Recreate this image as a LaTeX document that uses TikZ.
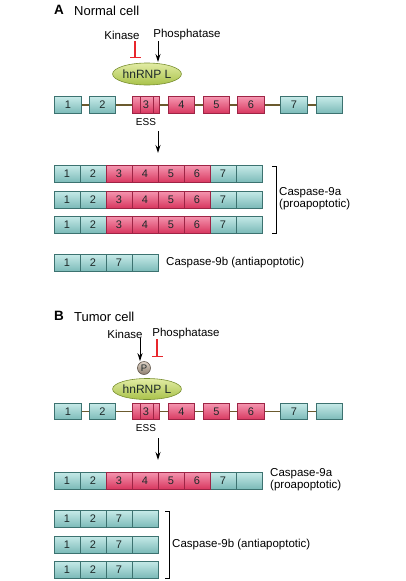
\documentclass[tikz,border=0pt]{standalone}
\usepackage{fontspec}
\setmainfont{Liberation Sans}
\usetikzlibrary{arrows.meta,shapes.geometric,calc,backgrounds}
\definecolor{tealL}{HTML}{C6EAE8}
\definecolor{tealD}{HTML}{7BBAB8}
\definecolor{tealB}{HTML}{3C7270}
\definecolor{pinkL}{HTML}{F596B0}
\definecolor{pinkD}{HTML}{D8375F}
\definecolor{pinkB}{HTML}{9E2445}
\definecolor{ellL}{HTML}{E2ECA4}
\definecolor{ellD}{HTML}{A9C24A}
\definecolor{ellB}{HTML}{7A9032}
\definecolor{bbone}{HTML}{6B5A2E}
\definecolor{inhred}{HTML}{E8262C}
\definecolor{txt}{HTML}{1E2A2A}
\definecolor{pL}{HTML}{DDD2C6}
\definecolor{pD}{HTML}{8E7E6E}
\tikzset{
  tealcell/.style={draw=tealB, top color=tealL, bottom color=tealD, minimum width=26pt, minimum height=17pt, inner sep=0pt, line width=0.6pt, text=txt, font=\fontsize{11}{11}\selectfont},
  pinkcell/.style={draw=pinkB, top color=pinkL, bottom color=pinkD, minimum width=26pt, minimum height=17pt, inner sep=0pt, line width=0.6pt, text=txt, font=\fontsize{11}{11}\selectfont},
  tealexon/.style={tealcell, minimum width=26.5pt, minimum height=16.5pt},
  pinkexon/.style={pinkcell, minimum width=26.5pt, minimum height=16.5pt},
  backbone/.style={draw=bbone, line width=1.4pt},
  lbl/.style={font=\fontsize{11.5}{12}\selectfont, inner sep=0pt, align=left},
  ttl/.style={font=\fontsize{13}{13}\selectfont, inner sep=0pt},
  act/.style={draw=black, line width=0.9pt, -{Stealth[length=8pt,width=5pt]}},
  inh/.style={draw=inhred, line width=1.1pt, -{Bar[width=11pt,line width=1.3pt]}},
  hnrnp/.style={ellipse, draw=ellB, top color=ellL, bottom color=ellD, minimum width=58pt, minimum height=22pt, inner sep=0pt, line width=0.6pt, font=\fontsize{12}{12}\selectfont, text=txt},
  bracket/.style={draw=black, line width=0.9pt},
}
\newcommand{\generow}[2]{%
  \node[tealexon] (#1e1) at (68,#2) {1};
  \node[tealexon] (#1e2) at (102.5,#2) {2};
  \node[pinkexon] (#1e3) at (146,#2) {3};
  \node[pinkexon] (#1e4) at (181.5,#2) {4};
  \node[pinkexon] (#1e5) at (216.5,#2) {5};
  \node[pinkexon] (#1e6) at (251,#2) {6};
  \node[tealexon] (#1e7) at (294,#2) {7};
  \node[tealexon] (#1e8) at (329.5,#2) {};
  \draw[pinkB, line width=0.6pt] ($(#1e3.north)+(-6,0)$) -- ($(#1e3.south)+(-6,0)$)
        ($(#1e3.north)+(7,0)$) -- ($(#1e3.south)+(7,0)$);
  \begin{scope}[on background layer]
    \draw[backbone] (#1e1.center) -- (#1e8.center);
  \end{scope}
  \node[font=\fontsize{10}{10}\selectfont, inner sep=0pt] (#1ess) at ($(#1e3.south)+(0,8.5)$) {ESS};
}
\newcommand{\rowNine}[2]{%
  \foreach \lab [count=\i] in {1,2,3,4,5,6,7,{}} {\node[tealcell] (#1c\i) at ({67+26*(\i-1)},#2) {\lab};}
  \foreach \lab [count=\i from 3] in {3,4,5,6} {\node[pinkcell] (#1c\i) at ({67+26*(\i-1)},#2) {\lab};}
}
\newcommand{\rowShort}[2]{%
  \foreach \lab [count=\i] in {1,2,7,{}} {\node[tealcell] (#1c\i) at ({67+26*(\i-1)},#2) {\lab};}
}
\begin{document}
\begin{tikzpicture}[x=1pt,y=-1pt]
\useasboundingbox (0,0) rectangle (406,581);
\begin{scope}[on background layer]
\fill[white] (0,0) rectangle (406,581);
\end{scope}

% ---------------- Panel A ----------------
\node[ttl, anchor=west, font=\fontsize{13.5}{13.5}\selectfont\bfseries] (tA) at (54,10) {A};
\node[ttl, anchor=west] (tAn) at (74,10.5) {Normal cell};
\node[lbl] (kinA) at (122,35) {Kinase};
\node[lbl] (phA) at (187,35) {Phosphatase};
\node[hnrnp] (hnA) at (147,74) {hnRNP L};
\coordinate (kinAs) at (135,41);
\coordinate (kinAe) at (135,58);
\coordinate (phAs) at (158,41);
\coordinate (phAe) at (158,62);
\draw[inh] (kinAs) -- (kinAe);
\draw[act] (phAs) -- (phAe);
\generow{gA}{105}
\coordinate (arAs) at (158,131);
\coordinate (arAe) at (158,153);
\draw[act] (arAs) -- (arAe);
\rowNine{aA}{174}
\rowNine{bA}{199.5}
\rowNine{cA}{224.5}
\coordinate (brA1) at (272,166);
\coordinate (brA2) at (276,166);
\coordinate (brA3) at (276,233);
\coordinate (brA4) at (272,233);
\draw[bracket] (brA1) -- (brA2) -- (brA3) -- (brA4);
\node[lbl, anchor=west] (c9aA) at (279,199) {Caspase-9a\\(proapoptotic)};
\rowShort{dA}{263}
\node[lbl, anchor=west] (c9bA) at (166,263) {Caspase-9b (antiapoptotic)};

% ---------------- Panel B ----------------
\node[ttl, anchor=west, font=\fontsize{13.5}{13.5}\selectfont\bfseries] (tB) at (54,316) {B};
\node[ttl, anchor=west] (tBn) at (74,316.5) {Tumor cell};
\node[lbl] (kinB) at (125,334) {Kinase};
\node[lbl] (phB) at (186,334) {Phosphatase};
\node[hnrnp, minimum height=21pt] (hnB) at (147,389) {hnRNP L};
\node[circle, draw=pD!70!black, inner sep=0pt, minimum size=13pt, top color=pL, bottom color=pD, line width=0.6pt, font=\fontsize{9.5}{9.5}\selectfont, text=txt] (pB) at (144,368) {P};
\coordinate (kinBs) at (140,338);
\coordinate (phBs) at (157,339);
\coordinate (phBe) at (157,357);
\draw[act] (kinBs) -- (pB.north -| kinBs);
\draw[inh] (phBs) -- (phBe);
\generow{gB}{411.5}
\coordinate (arBs) at (158,438);
\coordinate (arBe) at (158,460);
\draw[act] (arBs) -- (arBe);
\rowNine{aB}{480.5}
\node[lbl, anchor=west] (c9aB) at (270,480) {Caspase-9a\\(proapoptotic)};
\rowShort{bB}{519}
\rowShort{cB}{544.5}
\rowShort{dB}{569.5}
\coordinate (brB1) at (165,511);
\coordinate (brB2) at (169,511);
\coordinate (brB3) at (169,578);
\coordinate (brB4) at (165,578);
\draw[bracket] (brB1) -- (brB2) -- (brB3) -- (brB4);
\node[lbl, anchor=west] (c9bB) at (172,545) {Caspase-9b (antiapoptotic)};
\end{tikzpicture}
\end{document}
